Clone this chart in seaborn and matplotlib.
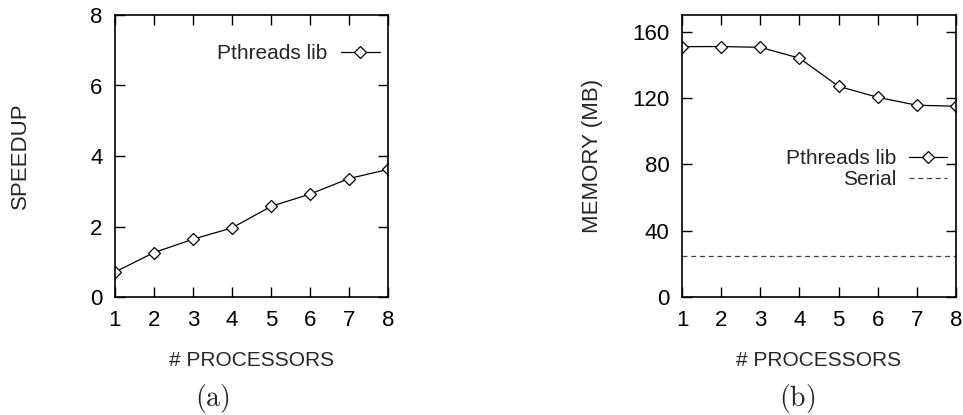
import matplotlib
matplotlib.use("Agg")
import matplotlib.pyplot as plt
import seaborn as sns
import pandas as pd

processors = [1, 2, 3, 4, 5, 6, 7, 8]
speedup_pthreads = [0.71, 1.26, 1.64, 1.96, 2.57, 2.92, 3.36, 3.62]
memory_pthreads = [150.9, 151.0, 150.5, 144.0, 127.0, 120.4, 115.6, 115.0]
memory_serial = [25, 25, 25, 25, 25, 25, 25, 25]
speedup_ticks = [0, 2, 4, 6, 8]
memory_ticks = [0, 40, 80, 120, 160]

sns.set_style("ticks")
plt.rcParams['font.family'] = ['Liberation Sans', 'DejaVu Sans']
plt.rcParams['mathtext.fontset'] = 'cm'

FS = 15
TS = 16

fig = plt.figure(figsize=(9.63, 4.15), dpi=100)
ax1 = fig.add_axes([115/963, 1 - 297/415, 273/963, 282/415])
ax2 = fig.add_axes([682/963, 1 - 297/415, 274/963, 282/415])

df_a = pd.DataFrame({"p": processors, "v": speedup_pthreads})
df_b = pd.DataFrame({"p": processors, "v": memory_pthreads})
df_s = pd.DataFrame({"p": processors, "v": memory_serial})

mk = dict(marker='D', markersize=6.5, markerfacecolor='white', markeredgecolor='black',
          markeredgewidth=0.9)

sns.lineplot(data=df_a, x="p", y="v", ax=ax1, color='black', linewidth=0.9,
             label="Pthreads lib", **mk)
sns.lineplot(data=df_b, x="p", y="v", ax=ax2, color='black', linewidth=0.9,
             label="Pthreads lib", **mk)
sns.lineplot(data=df_s, x="p", y="v", ax=ax2, color='#444444', linewidth=0.9,
             linestyle=(0, (4, 3)), label="Serial")

for ax in (ax1, ax2):
    ax.set_xlim(1, 8)
    ax.set_xticks(processors)
    ax.tick_params(direction='in', length=7, width=1, top=True, right=True,
                   labelsize=TS, colors='black')
    ax.tick_params(axis='x', pad=9)
    ax.tick_params(axis='y', pad=9)
    for s in ax.spines.values():
        s.set_visible(True)
        s.set_linewidth(1.2)
        s.set_color('black')
    ax.set_xlabel("# PROCESSORS", fontsize=FS)
    ax.xaxis.set_label_coords(0.5, -(360 - 297) / 282, transform=ax.transAxes)
    ax.xaxis.label.set_va('center')

ax1.set_ylim(0, 8)
ax1.set_yticks(speedup_ticks)
ax1.set_ylabel("SPEEDUP", fontsize=TS)
ax1.yaxis.set_label_coords((20 - 115) / 273, 0.5)
ax1.yaxis.label.set_va('center')
ax2.set_ylim(0, 170)
ax2.set_yticks(memory_ticks)
ax2.set_ylabel("MEMORY (MB)", fontsize=TS)
ax2.yaxis.set_label_coords((592 - 682) / 274, 0.5)
ax2.yaxis.label.set_va('center')

ax1.legend(loc='upper right', frameon=False, markerfirst=False, fontsize=FS,
           handlelength=1.85, handletextpad=0.65, borderaxespad=0.0,
           bbox_to_anchor=(1.0, 0.926))
ax2.legend(loc='upper right', frameon=False, markerfirst=False, fontsize=FS,
           handlelength=1.85, handletextpad=0.6, borderaxespad=0.03, labelspacing=0.07,
           bbox_to_anchor=(1.0, 0.555))

fig.text(212/963, 1 - 398/415, r'$(\mathrm{a})$', fontsize=20, ha='center', va='center')
fig.text(797/963, 1 - 398/415, r'$(\mathrm{b})$', fontsize=20, ha='center', va='center')

fig.savefig("out.png", dpi=100)
